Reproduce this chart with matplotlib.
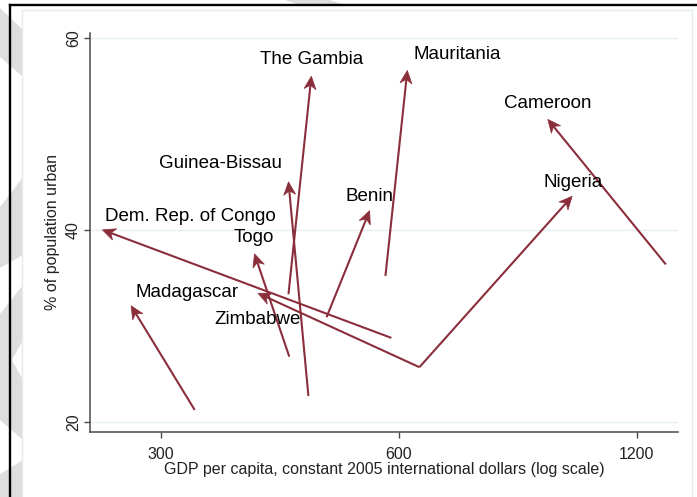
import numpy as np
import matplotlib
matplotlib.use("Agg")
import matplotlib.pyplot as plt
from matplotlib.patches import Polygon
from matplotlib.lines import Line2D
from matplotlib.ticker import FixedLocator, FixedFormatter, NullLocator

plt.rcParams['font.family'] = ['Liberation Sans', 'DejaVu Sans']

# ---- data ----
countries = ["The Gambia", "Mauritania", "Cameroon", "Nigeria", "Benin",
             "Guinea-Bissau", "Dem. Rep. of Congo", "Togo", "Madagascar", "Zimbabwe"]
gdp_start = [435, 577, 1306, 637, 486, 461, 587, 436, 331, 637]
gdp_end = [465, 615, 926, 994, 551, 435, 253, 394, 275, 398]
urban_start = [33.3, 35.2, 36.4, 25.7, 30.9, 22.7, 28.75, 26.8, 21.25, 25.7]
urban_end = [56.0, 56.6, 51.5, 43.5, 42.0, 45.0, 40.0, 37.5, 32.1, 33.4]

x_ticks = [300, 600, 1200]
x_ticklabels = ["300", "600", "1200"]
y_ticks = [20, 40, 60]
y_ticklabels = ["20", "40", "60"]

# label placement: (dx px, dy px, ha)
label_pos = {
    "The Gambia": (0, 17, "center"),
    "Mauritania": (6, 16, "left"),
    "Cameroon": (0, 16, "center"),
    "Nigeria": (1, 14, "center"),
    "Benin": (0, 14, "center"),
    "Guinea-Bissau": (-7, 18, "right"),
    "Dem. Rep. of Congo": (3, 13, "left"),
    "Togo": (-1, 16, "center"),
    "Madagascar": (4, 13, "left"),
    "Zimbabwe": (0, -26, "center"),
}

W, H = 697, 497
fig = plt.figure(figsize=(W / 100, H / 100), dpi=100)
fig.patch.set_facecolor("white")

def fx(px):
    return px / W

def fy(py):
    return 1 - py / H

# decorative slide background shapes on the left
shapes = [
    [(0, 8), (23, 30), (23, 77), (0, 57)],
    [(0, 207), (23, 177), (23, 255), (0, 268)],
    [(0, 314), (23, 285), (23, 340), (12, 360), (23, 380), (23, 440), (0, 420)],
    [(0, 474), (23, 460), (23, 497), (0, 497)],
    [(285, 0), (330, 0), (345, 5), (300, 5)],
]
for s in shapes:
    fig.patches.append(Polygon([(fx(a), fy(b)) for a, b in s], closed=True,
                               transform=fig.transFigure, facecolor="#dedede",
                               edgecolor="none", zorder=0))

# faint inner graph-region border
fig.add_artist(Line2D([fx(22), fx(22)], [fy(10), fy(497)], transform=fig.transFigure,
                      color="#e4ecee", lw=1, zorder=1))
fig.add_artist(Line2D([fx(22), fx(692)], [fy(10), fy(10)], transform=fig.transFigure,
                      color="#e4ecee", lw=1, zorder=1))
fig.add_artist(Line2D([fx(692), fx(692)], [fy(10), fy(497)], transform=fig.transFigure,
                      color="#e4ecee", lw=1, zorder=1))
# black frame
fig.add_artist(Line2D([fx(10), fx(10)], [fy(5), fy(497)], transform=fig.transFigure,
                      color="black", lw=1.7, zorder=2))
fig.add_artist(Line2D([fx(10), fx(697)], [fy(5), fy(5)], transform=fig.transFigure,
                      color="black", lw=1.7, zorder=2))

ax_l, ax_r, ax_b, ax_t = 90, 678, 432, 33
ax = fig.add_axes([fx(ax_l), fy(ax_b), fx(ax_r - ax_l), (ax_b - ax_t) / H])
ax.set_facecolor("none")
ax.set_xscale("log")
ax.set_xlim(244, 1353)
ax.set_ylim(18.95, 60.5)

for sp in ["top", "right"]:
    ax.spines[sp].set_visible(False)
for sp in ["left", "bottom"]:
    ax.spines[sp].set_color("#4a4a4a")
    ax.spines[sp].set_linewidth(1.1)

ax.xaxis.set_major_locator(FixedLocator(x_ticks))
ax.xaxis.set_major_formatter(FixedFormatter(x_ticklabels))
ax.xaxis.set_minor_locator(NullLocator())
ax.yaxis.set_major_locator(FixedLocator(y_ticks))
ax.yaxis.set_major_formatter(FixedFormatter(y_ticklabels))
ax.tick_params(axis="both", direction="out", length=4.5, width=1, color="#4a4a4a",
               labelsize=11.5, labelcolor="#222222")
ax.tick_params(axis="x", pad=6)
ax.tick_params(axis="y", pad=2)
for lab in ax.get_yticklabels():
    lab.set_rotation(90)
    lab.set_va("center")

ax.grid(axis="y", color="#e6eff1", lw=1)
ax.set_axisbelow(True)

ax.set_xlabel("GDP per capita, constant 2005 international dollars (log scale)",
              fontsize=11.5, color="#222222", labelpad=0)
ax.set_ylabel("% of population urban", fontsize=11.5, color="#222222", labelpad=4)

color = "#8b2e3c"
L, Wd, N = 13.0, 6.0, 9.0
inv = ax.transData.inverted()
for c, x0, x1, y0, y1 in zip(countries, gdp_start, gdp_end, urban_start, urban_end):
    p0 = ax.transData.transform((x0, y0))
    p1 = ax.transData.transform((x1, y1))
    d = p1 - p0
    u = d / np.hypot(*d)
    n = np.array([-u[1], u[0]])
    back = p1 - L * u
    notch = p1 - N * u
    head = np.array([p1, back + Wd * n, notch, back - Wd * n])
    head_data = inv.transform(head)
    notch_data = inv.transform(notch)
    ax.plot([x0, notch_data[0]], [y0, notch_data[1]], color=color, lw=1.5,
            solid_capstyle="butt", zorder=3)
    ax.add_patch(Polygon(head_data, closed=True, facecolor=color, edgecolor=color,
                         lw=0.5, zorder=3))
    dx, dy, ha = label_pos[c]
    ax.annotate(c, xy=(x1, y1), xytext=(dx, dy), textcoords="offset pixels",
                ha=ha, va="center", fontsize=13.5, color="black", zorder=4)

fig.savefig("out.png", dpi=100)
